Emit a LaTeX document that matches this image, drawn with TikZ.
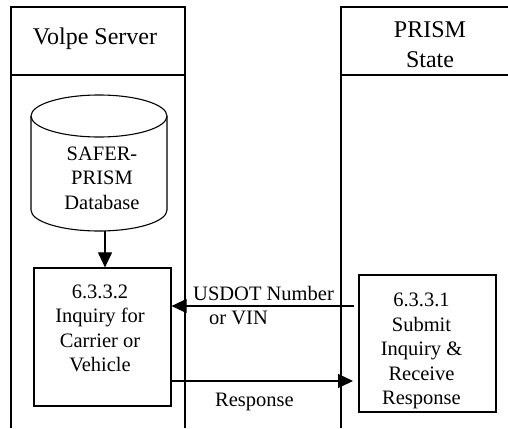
\documentclass[tikz,border=0pt]{standalone}
\usepackage{fontspec}
\setmainfont{Liberation Serif}
\usetikzlibrary{arrows.meta}
\begin{document}
\begin{tikzpicture}[x=1pt,y=-1pt,
  lane/.style={line width=1.2pt},
  proc/.style={draw, line width=1.2pt, inner sep=0pt},
  lbl/.style={font=\fontsize{20.5}{24.5}\selectfont, align=center, inner sep=0pt},
  hdr/.style={font=\fontsize{24}{30}\selectfont, align=center, inner sep=0pt},
  flow/.style={line width=1.1pt, -{Triangle[length=15pt,width=14pt]}}]
\useasboundingbox[fill=white] (0,0) rectangle (508,428);
% swimlanes
\draw[lane] (11,428) -- (11,7) -- (185,7) -- (185,428);
\draw[lane] (11,75) -- (185,75);
\draw[lane] (341,428) -- (341,7) -- (510,7);
\draw[lane] (341,75) -- (510,75);
\node[hdr, anchor=base] (vs) at (95,45) {Volpe Server};
\node[hdr] (ps) at (430,44.5) {PRISM\\State};
% database cylinder
\draw[line width=1.1pt] (99,116) ellipse [x radius=68pt, y radius=21pt];
\draw[line width=1.1pt] (31,116) -- (31,210) arc[start angle=180, end angle=360, x radius=68pt, y radius=21pt] -- (167,116);
\node[lbl] (db) at (102,178) {SAFER-\\PRISM\\Database};
\coordinate (dbb) at (105,231);
% processes
\node[proc, minimum width=137pt, minimum height=138pt] (inq) at (102.5,337) {};
\node[lbl] (inqt) at (100,328.5) {6.3.3.2\\Inquiry for\\Carrier or\\Vehicle};
\node[proc, minimum width=137pt, minimum height=137pt] (sub) at (427.5,343.5) {};
\node[lbl] (subt) at (421.5,351) {6.3.3.1\\Submit\\Inquiry \&\\Receive\\Response};
% connectors
\draw[flow] (dbb) -- (dbb |- inq.north);
\coordinate (u) at (354,306);
\draw[flow] (u) -- (u -| inq.east);
\coordinate (r) at (353,381);
\draw[flow] (r -| inq.east) -- (r);
\node[lbl, align=left, anchor=north west] (ul) at (193,286) {USDOT Number\\\hspace*{16pt}or VIN};
\node[lbl, anchor=base] (rl) at (254.5,406) {Response};
\end{tikzpicture}
\end{document}
